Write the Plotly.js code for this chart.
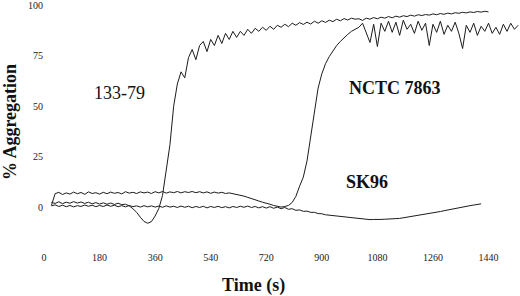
<!DOCTYPE html>
<html>
<head>
<meta charset="utf-8">
<script src="https://cdn.plot.ly/plotly-3.0.1.min.js"></script>
<style>html,body{margin:0;padding:0;background:#fff;}#chart{width:520px;height:296px;}</style>
</head>
<body>
<div id="chart"></div>
<script>
// time axis (s), sampled every 12 s from 24 s
const time = [];
for (let t = 24; t <= 1536; t += 12) time.push(t);

const xTickVals = [0, 180, 360, 540, 720, 900, 1080, 1260, 1440];
const yTickVals = [0, 25, 50, 75, 100];

const seriesNames = ["133-79", "NCTC 7863", "SK96"];

// % Aggregation, strain 133-79 (t = 24 ... 1440)
const agg13379 = [
  2.5, 2.0, 2.8, 1.9, 2.6, 2.1, 2.9, 2.2, 2.7, 2.0, 2.6, 1.8, 2.4, 1.7, 2.3, 1.6, 2.2, 1.5, 2.1, 1.4,
  1.6, 0.8, -0.6, -2.4, -4.8, -6.9, -7.8, -7.0, -4.2, -0.5, 6, 18, 31, 50, 61, 67, 64, 74, 78, 73,
  80, 82, 77, 83, 80, 85, 81, 86, 83, 87, 84, 87, 85, 88, 86, 88.5, 87, 89, 87.5, 89.5,
  88, 90, 89, 90.5, 89.3, 91, 90, 91.3, 90.4, 91.5, 90.6, 92, 91, 92.2, 91.4, 92.5, 91.8, 93, 92.2, 93.3,
  92.6, 93.5, 93.0, 93.2, 92.4, 93.5, 93.0, 93.8, 93.2, 94, 93.5, 94.3, 93.7, 94.5, 94.0, 94.7, 94.3, 95, 94.5, 95.2,
  94.8, 95.3, 95, 95.6, 95.2, 95.8, 95.4, 96, 95.6, 96.2, 95.9, 96.4, 96.1, 96.6, 96.3, 96.8, 96.5, 96.9, 96.6
];

// % Aggregation, strain NCTC 7863 (t = 24 ... 1536)
const aggNCTC = [
  1.0, 6.8, 7.5, 6.4, 7.2, 6.6, 7.6, 6.8, 7.4, 6.5, 7.7, 6.9, 7.3, 6.6, 7.5, 6.8, 7.6, 7.0, 7.4, 6.7,
  7.8, 7.1, 7.5, 6.9, 7.7, 7.2, 7.6, 6.9, 7.8, 7.2, 7.9, 7.1, 7.7, 7.3, 7.9, 7.2, 7.8, 7.4, 7.9, 7.3,
  7.8, 7.2, 7.7, 7.0, 7.6, 7.1, 7.5, 6.9, 7.2, 6.8, 6.6, 6.0, 5.6, 5.0, 4.5, 3.8, 3.2, 2.6, 2.2, 1.6,
  1.0, 0.6, 0.2, 0.5, 1.0, 2.5, 5.5, 10.5, 15, 23, 35, 48, 59, 66, 71, 74.5, 77.5, 80, 82, 84,
  85.5, 87, 88, 89, 91, 86, 81.5, 90.5, 79.5, 91, 87, 92, 86.5, 91.5, 85, 92.5, 88, 90.5, 86, 92,
  87.5, 91, 80, 90.5, 86.5, 92, 85.5, 90, 87, 91.5, 86, 78.5, 90, 86.5, 91, 85, 89.5, 87, 91, 86,
  89, 85.5, 90.5, 87, 91, 88, 90
];

// % Aggregation, strain SK96 (t = 24 ... 1416)
const aggSK96 = [
  0.8, 1.3, 0.5, 1.1, 0.4, 1.0, 0.3, 0.9, 0.5, 1.2, 0.6, 1.1, 0.4, 1.0, 0.5, 1.2, 0.6, 1.1, 0.4, 0.9,
  0.3, 1.0, 0.4, 0.8, 0.2, 0.9, 0.3, 0.8, 0.2, 0.7, 0.1, 0.8, 0.2, 0.6, 0.0, 0.7, 0.1, 0.6, -0.1, 0.5,
  0.0, 0.6, -0.2, 0.5, 0.0, 0.6, -0.1, 0.4, -0.2, 0.5, 0.0, 0.6, 0.1, 0.7, 0.0, 0.5, -0.2, 0.4, -0.3, 0.4,
  -0.4, 0.2, -0.6, 0.0, -0.9, -0.6, -1.4, -1.2, -1.9, -1.8, -2.4, -2.4, -3.0, -3.1, -3.6, -3.8, -4.2, -4.4, -4.7, -4.9,
  -5.1, -5.3, -5.5, -5.6, -5.8, -5.8, -6.0, -5.9, -6.0, -5.9, -5.8, -5.8, -5.6, -5.5, -5.4, -5.1, -4.9, -4.6, -4.4, -4.0,
  -3.7, -3.4, -3.0, -2.7, -2.3, -2.0, -1.6, -1.2, -0.9, -0.5, -0.2, 0.2, 0.5, 0.9, 1.2, 1.5, 1.8
];

const serif = "Liberation Serif, Times New Roman, serif";
const lineStyle = {color: "#1c1c1c", width: 1};

const traces = [agg13379, aggNCTC, aggSK96].map((vals, i) => ({
  type: "scatter",
  mode: "lines",
  name: seriesNames[i],
  x: time.slice(0, vals.length),
  y: vals,
  line: lineStyle,
  hoverinfo: "skip"
}));

const layout = {
  width: 520,
  height: 296,
  margin: {l: 44, r: 0, t: 4, b: 46},
  paper_bgcolor: "#fff",
  plot_bgcolor: "#fff",
  showlegend: false,
  xaxis: {
    range: [0, 1542],
    tickvals: xTickVals,
    ticktext: xTickVals.map(String),
    showgrid: false, zeroline: false, showline: false, ticks: "",
    tickfont: {family: serif, size: 10, color: "#222"}
  },
  yaxis: {
    range: [-21, 100.5],
    tickvals: yTickVals,
    ticktext: yTickVals.map(String),
    showgrid: false, zeroline: false, showline: false, ticks: "",
    ticklabeloverflow: "allow",
    tickfont: {family: serif, size: 10, color: "#222"}
  },
  annotations: [
    {xref: "paper", yref: "paper", x: 0.441, y: -0.143, xanchor: "center", yanchor: "middle",
     text: "Time (s)", showarrow: false, font: {family: serif, size: 18, weight: "bold", color: "#111"}},
    {xref: "paper", yref: "paper", x: -0.0714, y: 0.52, xanchor: "center", yanchor: "middle",
     text: "% Aggregation", textangle: -90, showarrow: false, font: {family: serif, size: 18, weight: "bold", color: "#111"}},
    {xref: "x", yref: "y", x: 243, y: 56.4, text: seriesNames[0], showarrow: false,
     font: {family: serif, size: 18, color: "#111"}},
    {xref: "x", yref: "y", x: 1137, y: 58.9, text: seriesNames[1], showarrow: false,
     font: {family: serif, size: 18, weight: "bold", color: "#111"}},
    {xref: "x", yref: "y", x: 1047, y: 12.4, text: seriesNames[2], showarrow: false,
     font: {family: serif, size: 18, weight: "bold", color: "#111"}}
  ]
};

Plotly.newPlot("chart", traces, layout, {staticPlot: true, displayModeBar: false});
</script>
</body>
</html>
